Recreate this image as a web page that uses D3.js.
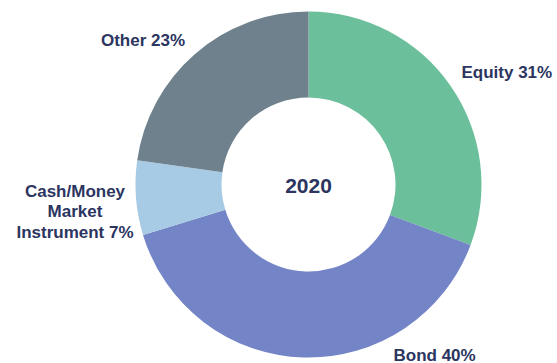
<!DOCTYPE html>
<html>
<head>
<meta charset="utf-8">
<script src="https://cdn.jsdelivr.net/npm/d3@7"></script>
<style>
  body { margin: 0; background: #fff; }
  svg { display: block; }
  text { font-family: "Liberation Sans", Arial, sans-serif; font-weight: bold; fill: #2b3560; }
</style>
</head>
<body>
<script>
// data
var categories = ["Equity", "Bond", "Cash/Money Market Instrument", "Other"];
var shares = [31, 40, 7, 23];
var centerLabel = "2020";

var colors = ["#6bbf9a", "#7385c6", "#a7cbe4", "#6e818d"];

// set the dimensions
var width = 557, height = 363,
    cx = 308.5, cy = 184.5,
    outerR = 173, innerR = 87;

var svg = d3.select("body").append("svg")
    .attr("width", width)
    .attr("height", height);

var g = svg.append("g")
    .attr("transform", "translate(" + cx + "," + cy + ")");

var pie = d3.pie().sort(null).value(function(d) { return d; });
var arc = d3.arc().innerRadius(innerR).outerRadius(outerR);

var slices = pie(shares);

g.selectAll("path")
    .data(slices)
  .enter().append("path")
    .attr("d", arc)
    .attr("fill", function(d, i) { return colors[i]; });

// centre text
g.append("text")
    .attr("text-anchor", "middle")
    .attr("y", 8.5)
    .style("font-size", "21px")
    .text(centerLabel);

// slice labels, placed beside the ring (relative to centre, y = first baseline)
var labelPos = [
  {x: 153, y: -107, anchor: "start", lines: ["Equity"]},
  {x: 85,  y: 176,  anchor: "start", lines: ["Bond"]},
  {x: -233.5, y: 12, anchor: "middle", lines: ["Cash/Money", "Market", "Instrument"]},
  {x: -123.5, y: -139, anchor: "end", lines: ["Other"]}
];

slices.forEach(function(s, i) {
  var p = labelPos[i];
  var lines = p.lines.slice();
  lines[lines.length - 1] += " " + shares[i] + "%";
  var t = g.append("text")
      .attr("text-anchor", p.anchor)
      .style("font-size", "17px");
  lines.forEach(function(l, k) {
    t.append("tspan")
        .attr("x", p.x)
        .attr("y", p.y + k * 20.8)
        .text(l);
  });
});
</script>
</body>
</html>
